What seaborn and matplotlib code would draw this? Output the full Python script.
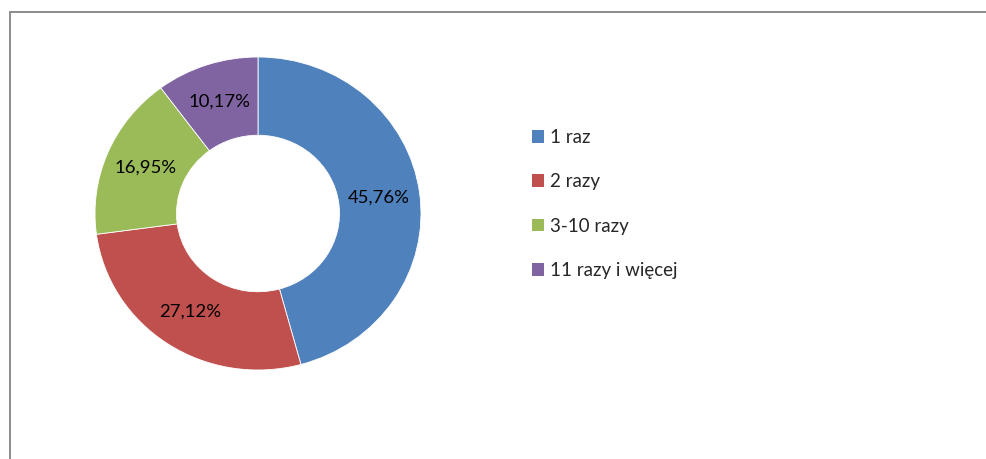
import numpy as np
import seaborn as sns
import matplotlib.pyplot as plt
from matplotlib.patches import Rectangle, Patch

# data
categories = ["1 raz", "2 razy", "3-10 razy", "11 razy i więcej"]
shares = [45.76, 27.12, 16.95, 10.17]
pct_labels = ["45,76%", "27,12%", "16,95%", "10,17%"]
colors = ["#4F81BD", "#C0504D", "#9BBB59", "#8064A2"]

sns.set_theme(style="white")
plt.rcParams['font.family'] = ['Lato', 'DejaVu Sans']

W, H = 986, 459
fig = plt.figure(figsize=(W / 100, H / 100), dpi=100)

# outer frame of the chart area (only left and top edges visible)
fig.patches.append(Rectangle((10 / W, -0.5), 2.0, 1.5 - 11.5 / H,
                             transform=fig.transFigure, fill=False,
                             edgecolor="#8c8c8c", linewidth=1.4, zorder=0))

# donut is slightly wider than tall in the reference
ax = fig.add_axes([95 / W, (H - 370) / H, 326 / W, 313 / H])
wedges, _ = ax.pie(shares, colors=colors, startangle=90, counterclock=False,
                   radius=1.0,
                   wedgeprops=dict(width=0.5, edgecolor="white", linewidth=0.6))
ax.set_aspect('auto')
ax.set_xlim(-1, 1)
ax.set_ylim(-1, 1)

# percentage labels in the middle of the ring
for w, lab in zip(wedges, pct_labels):
    mid = np.deg2rad((w.theta1 + w.theta2) / 2)
    r = 0.75
    ax.text(r * np.cos(mid), r * np.sin(mid), lab, ha="center", va="center",
            fontsize=13.3, color="black")

handles = [Patch(facecolor=c, edgecolor="none") for c in colors]
fig.legend(handles, categories, loc="center left",
           bbox_to_anchor=(524 / W, 1 - 204 / H), frameon=False,
           fontsize=13.5, handlelength=0.68, handleheight=0.68,
           handletextpad=0.3, labelspacing=1.45, borderaxespad=0)

fig.savefig("out.png", dpi=100, facecolor="white")
